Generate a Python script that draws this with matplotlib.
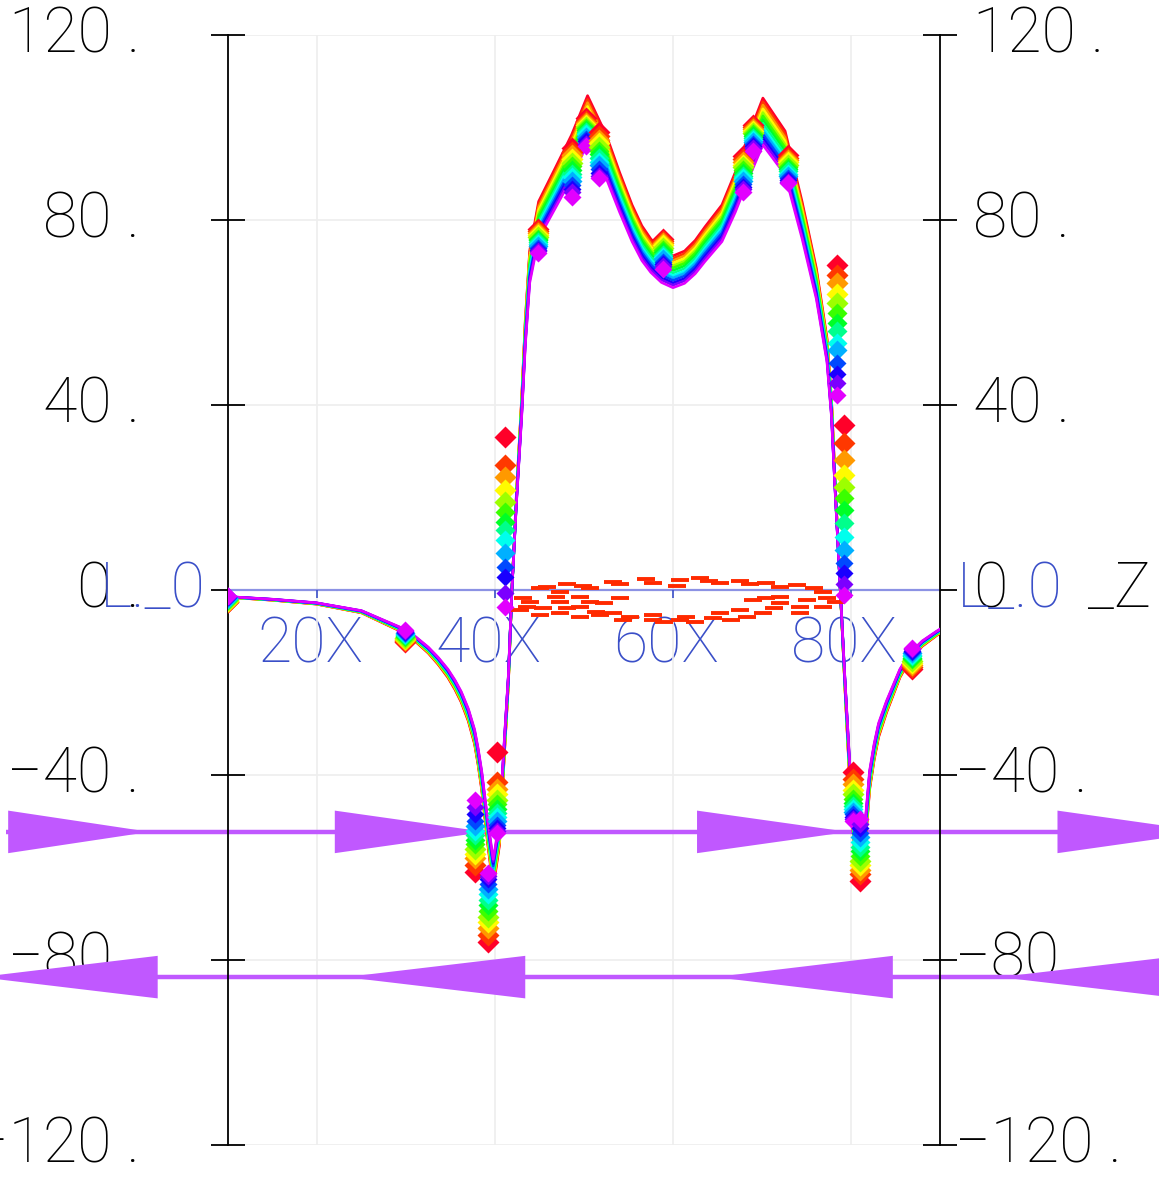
import numpy as np
import matplotlib
matplotlib.use("Agg")
import matplotlib.pyplot as plt

# -----------------------------
# Data
# -----------------------------
base_x = [10.0, 15.0, 19.9, 25.0, 29.5, 31.0, 32.5, 33.6, 34.7, 35.5,
          36.2, 37.0, 37.7, 38.1, 38.5, 39.2, 39.8, 40.5, 41.1, 41.5,
          41.9, 42.4, 43.0, 43.4, 43.9, 44.9, 46.8, 48.6, 50.4, 52.5,
          54.0, 55.4, 56.5, 57.5, 58.7, 60.0, 61.3, 62.5, 63.6, 65.5,
          67.0, 68.5, 70.1, 72.6, 74.5, 76.1, 77.3, 77.8, 78.2, 78.8,
          79.3, 79.9, 80.4, 81.0, 81.6, 82.1, 82.6, 83.1, 84.0, 85.5,
          86.6, 88.0, 89.6, 90.0]
base_y = [-1.5, -2.1, -2.9, -4.7, -8.6, -10.5, -13.0, -15.3, -18.0, -20.5,
          -23.1, -27.0, -31.7, -36.0, -41.1, -52.6, -61.3, -52.6, -32.4, -19.5,
          0.0, 19.5, 39.6, 55.5, 69.9, 80.0, 87.0, 93.7, 101.8, 93.7,
          86.0, 79.3, 75.0, 72.3, 70.0, 68.8, 69.8, 72.0, 74.8, 79.3,
          86.0, 93.7, 101.3, 94.5, 80.0, 66.3, 51.9, 39.6, 23.1, 0.0,
          -19.5, -41.0, -54.0, -60.5, -52.6, -41.0, -35.0, -30.3, -25.2, -18.0,
          -14.4, -11.6, -9.4, -8.9]

# one factor per curve, red (outer) to magenta (inner)
curve_scale = [1.050, 1.042, 1.035, 1.027, 1.019, 1.012, 1.004,
               0.996, 0.988, 0.981, 0.973, 0.965, 0.958, 0.950]

# diamond columns: x position and one y per curve (red -> magenta)
marker_x = [10.0, 29.9, 37.8, 39.2, 40.2, 41.1, 44.8, 48.6, 50.2, 51.7,
            58.9, 67.9, 69.0, 72.9, 78.4, 79.2, 80.2, 81.0, 86.9]
marker_y = [
    [-2.6, -2.5, -2.4, -2.3, -2.2, -2.1, -2.0, -1.9, -1.8, -1.7, -1.6, -1.5, -1.4, -1.3],
    [-11.3, -11.0, -10.8, -10.6, -10.4, -10.2, -10.0, -9.8, -9.6, -9.4, -9.2, -9.0, -8.8, -8.6],
    [-61.0, -59.5, -58.0, -57.0, -56.0, -55.0, -54.0, -53.0, -52.0, -51.0, -50.0, -48.5, -47.0, -45.4],
    [-76.0, -74.5, -73.0, -71.8, -70.6, -69.4, -68.2, -67.0, -65.8, -64.6, -63.5, -62.5, -61.8, -61.2],
    [-35.0, -41.5, -43.0, -44.2, -45.3, -46.3, -47.3, -48.2, -49.1, -50.0, -50.8, -51.5, -52.1, -52.6],
    [33.1, 27.0, 24.4, 21.6, 19.0, 16.9, 14.8, 13.0, 10.8, 8.0, 5.0, 2.8, -0.7, -3.6],
    [78.0, 77.6, 77.2, 76.8, 76.4, 76.0, 75.6, 75.2, 74.8, 74.4, 74.0, 73.6, 73.2, 72.8],
    [95.5, 94.8, 94.0, 93.2, 92.4, 91.6, 90.8, 90.0, 89.2, 88.4, 87.6, 86.8, 86.0, 85.0],
    [102.0, 101.5, 101.0, 100.6, 100.2, 99.8, 99.4, 99.0, 98.5, 98.0, 97.5, 97.0, 96.5, 96.0],
    [99.0, 98.2, 97.4, 96.6, 95.8, 95.0, 94.2, 93.4, 92.6, 91.8, 91.0, 90.2, 89.6, 89.0],
    [76.0, 75.5, 75.0, 74.5, 74.0, 73.5, 73.0, 72.5, 72.0, 71.5, 71.0, 70.5, 70.0, 69.4],
    [93.8, 93.2, 92.6, 92.0, 91.4, 90.8, 90.2, 89.6, 89.0, 88.4, 87.8, 87.2, 86.6, 86.0],
    [100.5, 100.1, 99.7, 99.3, 98.9, 98.5, 98.1, 97.7, 97.3, 96.9, 96.5, 96.0, 95.5, 95.0],
    [94.0, 93.5, 93.0, 92.5, 92.0, 91.5, 91.0, 90.5, 90.0, 89.5, 89.0, 88.6, 88.3, 88.0],
    [70.3, 68.1, 66.3, 64.1, 62.0, 59.8, 57.7, 55.9, 53.3, 51.9, 49.0, 46.8, 44.7, 42.2],
    [35.7, 31.7, 28.1, 24.9, 22.3, 19.8, 17.3, 14.4, 11.5, 8.6, 5.8, 3.6, 1.4, -1.1],
    [-39.3, -40.8, -42.0, -43.2, -44.2, -45.2, -46.0, -46.8, -47.4, -48.0, -48.5, -49.0, -49.5, -50.0],
    [-63.0, -61.5, -60.5, -59.5, -58.5, -57.5, -56.5, -55.5, -54.5, -53.5, -52.5, -51.5, -50.5, -49.5],
    [-17.0, -16.6, -16.2, -15.8, -15.4, -15.0, -14.6, -14.3, -14.0, -13.7, -13.4, -13.1, -12.8, -12.5],
]

# red dashes around the zero line
dash_x = [45.8, 48.05, 49.9, 50.7, 53.3, 54.0, 57.0, 57.8, 60.8, 60.4, 64.1, 65.3,
          67.5, 68.6, 70.5, 72.0, 73.9, 75.8, 76.9, 45.05, 47.3,
          43.2, 43.9, 46.9, 47.3, 49.5, 50.7, 43.55, 45.4, 48.05, 49.5, 51.4, 42.8,
          45.05, 47.3, 49.5, 51.8, 53.3, 54.4, 55.2, 57.8, 57.8, 60.8, 61.5, 64.5,
          65.3, 67.5, 68.3, 70.1, 71.3, 72.0, 74.3, 75.0, 77.3, 76.9, 74.3, 70.5,
          72.0, 69.0, 54.0, 62.5, 66.5, 59.0, 52.3, 78.3, 63.0]
dash_y = [0.72, 1.30, 0.86, 0.36, 1.80, 1.30, 2.3, 1.6, 2.2, 0.86, 2.0, 1.44,
          2.0, 1.3, 1.44, 0.72, 1.08, 0.36, -0.36, 0.36, -0.36,
          -1.8, -2.5, -1.44, -2.5, -1.44, -2.5, -3.6, -3.96, -3.96, -3.6, -4.7, -4.3,
          -5.4, -5.05, -5.77, -5.4, -5.05, -6.5, -5.77, -5.4, -6.5, -6.5, -5.77, -6.1,
          -5.05, -4.3, -5.77, -5.05, -3.96, -2.9, -3.6, -2.2, -1.8, -3.6, -5.05, -1.8,
          -1.44, -2.2, -1.8, -6.9, -6.5, -6.9, -2.9, -2.5, 2.6]

# purple wedges: wide end x, tip x
wedge_row_y = [-52.3, -83.7]
wedges_right = [(-14.7, 1.2), (22.0, 38.9), (62.7, 79.7), (103.2, 120.1)]
wedges_left = [(2.1, -17.9), (43.4, 23.2), (84.7, 64.7), (117.0, 96.7)]

y_ticks = [120, 80, 40, 0, -40, -80, -120]
left_labels = ["120 .", "80 .", "40 .", "0 .", "\u221240 .", "\u221280 .", "\u2212120 ."]
right_labels = ["120 .", "80 .", "40 .", "0", "\u221240 .", "\u221280 .", "\u2212120 ."]
x_ticks = [20, 40, 60, 80]
x_labels = ["20X", "40X", "60X", "80X"]

# -----------------------------
# Figure
# -----------------------------
W, H = 1159, 1178
fig = plt.figure(figsize=(W / 100, H / 100), dpi=100)
ax = fig.add_axes([228 / W, 1 - 1145 / H, 712 / W, 1110 / H])
ax.set_xlim(10, 90)
ax.set_ylim(-120, 120)

FONT = ["Roboto", "DejaVu Sans"]
FS = 45
BLUE = "#3a4fc8"
PURPLE = "#c058ff"

ax.set_xticks(x_ticks)
ax.set_yticks(y_ticks)
ax.grid(True, color="#eeeeee", linewidth=1.2, zorder=0)
ax.tick_params(axis="x", length=0, labelbottom=False)
ax.tick_params(axis="y", direction="inout", length=24, width=1.3,
               left=True, right=True, labelleft=False, labelright=False)
for side in ["top", "bottom"]:
    ax.spines[side].set_visible(False)
for side in ["left", "right"]:
    ax.spines[side].set_linewidth(1.3)
    ax.spines[side].set_zorder(2.5)

# zero line
ax.axhline(0, color="#8c92e4", linewidth=1.6, zorder=2)
ax.plot(x_ticks, [0] * 4, ls="none", marker=3, ms=6, mew=1.2, color=BLUE, zorder=2)

# purple wedges
for y0 in wedge_row_y:
    ax.plot([-15, 121], [y0, y0], color=PURPLE, lw=3.2, clip_on=False,
            zorder=2.2, solid_capstyle="butt")
for xw, xt in wedges_right:
    y0 = wedge_row_y[0]
    ax.fill([xw, xw, xt], [y0 + 4.6, y0 - 4.6, y0], color=PURPLE,
            lw=0, clip_on=False, zorder=2.2)
for xw, xt in wedges_left:
    y0 = wedge_row_y[1]
    ax.fill([xw, xw, xt], [y0 + 4.6, y0 - 4.6, y0], color=PURPLE,
            lw=0, clip_on=False, zorder=2.2)

# rainbow curves
n = len(curve_scale)
colors = plt.cm.gist_rainbow(np.linspace(0, 0.93, n))
by = np.array(base_y)
for i, s in enumerate(curve_scale):
    ax.plot(base_x, by * s, color=colors[i], lw=1.9, zorder=3,
            solid_joinstyle="round")

# red dashes
ax.plot(dash_x, dash_y, ls="none", marker="_", ms=13, mew=2.8,
        color="#ff2a00", zorder=4)

# diamonds
sizes = np.linspace(11.5, 9, n)
for mx, col in zip(marker_x, marker_y):
    for i, my in enumerate(col):
        ax.plot(mx, my, ls="none", marker="D", ms=sizes[i], mec="none",
                color=colors[i], zorder=5)

# -----------------------------
# Text
# -----------------------------
def ftext(px, py, s, ha="left", color="black"):
    ax.text(px / W, 1 - py / H, s, transform=fig.transFigure, ha=ha, va="center",
            fontsize=FS, color=color, family=FONT, fontweight=100,
            clip_on=False, zorder=1)

ypix = {120: 35, 80: 220, 40: 405, 0: 590, -40: 775, -80: 960, -120: 1145}
for v, lab in zip(y_ticks, left_labels):
    ftext(140, ypix[v], lab, ha="right")
for v, lab in zip(y_ticks, right_labels):
    ftext(955 if v < 0 else 973, ypix[v], lab, ha="left")

ftext(100, 590, "L._0", color=BLUE)
ftext(957, 590, "L_.0", color=BLUE)
ftext(1088, 590, "_Z")

for xv, lab in zip(x_ticks, x_labels):
    px = 228 + (xv - 10) * 8.9 - 7
    ftext(px, 645, lab, ha="center", color=BLUE)

fig.savefig("out.png", dpi=100)
